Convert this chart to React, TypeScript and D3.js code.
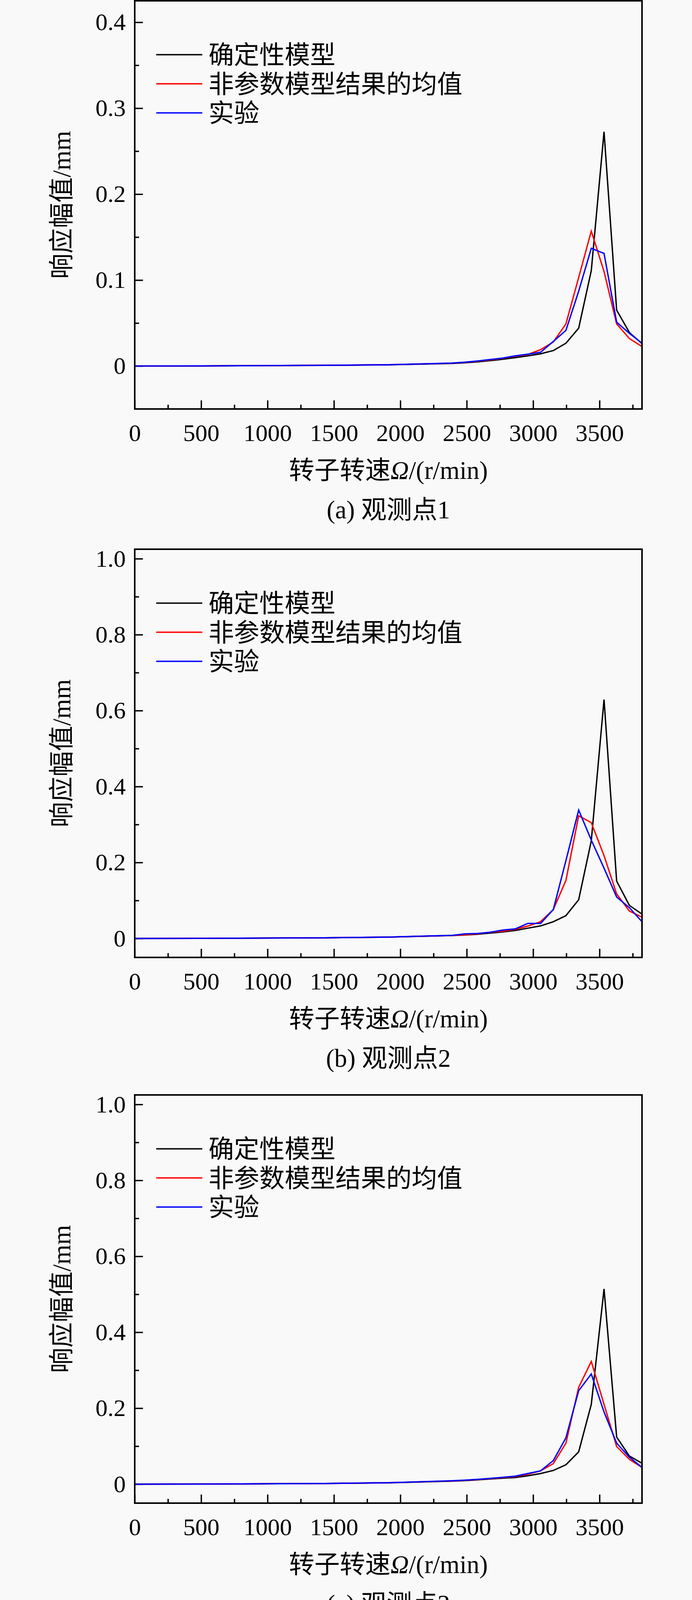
import React, { useEffect, useRef } from 'react';
import * as d3 from 'd3';

// rotor speed (r/min) of every sample
const speeds = [0, 478, 955, 1433, 1910, 2388, 2483, 2579, 2674, 2770, 2865, 2960, 3056, 3152, 3247, 3343, 3438, 3534, 3629, 3725, 3820];

// (a) observation point 1
const detA = [0, 0.0001, 0.0004, 0.0008, 0.0014, 0.003, 0.0038, 0.0048, 0.0062, 0.0078, 0.0098, 0.0118, 0.0142, 0.018, 0.0265, 0.044, 0.111, 0.2726, 0.065, 0.039, 0.026];
const npA = [0, 0.0001, 0.0004, 0.0008, 0.0015, 0.0033, 0.0042, 0.0054, 0.007, 0.009, 0.0115, 0.0135, 0.019, 0.028, 0.049, 0.103, 0.157, 0.11, 0.049, 0.032, 0.0226];
const expA = [0, 0.0001, 0.0004, 0.0008, 0.0015, 0.0034, 0.0044, 0.0058, 0.0075, 0.0092, 0.0118, 0.0138, 0.016, 0.0286, 0.0415, 0.087, 0.137, 0.131, 0.051, 0.038, 0.0265];

// (b) observation point 2
const detB = [0, 0.0002, 0.0008, 0.0018, 0.0035, 0.0075, 0.009, 0.011, 0.014, 0.017, 0.021, 0.027, 0.033, 0.044, 0.06, 0.102, 0.257, 0.629, 0.151, 0.087, 0.064];
const npB = [0, 0.0002, 0.0008, 0.0018, 0.0035, 0.0078, 0.0095, 0.012, 0.016, 0.019, 0.024, 0.0325, 0.044, 0.076, 0.153, 0.323, 0.305, 0.218, 0.117, 0.072, 0.056];
const expB = [0, 0.0002, 0.0008, 0.0018, 0.0036, 0.008, 0.012, 0.013, 0.016, 0.022, 0.025, 0.0395, 0.0395, 0.076, 0.205, 0.338, 0.259, 0.185, 0.109, 0.081, 0.044];

// (c) observation point 3
const detC = [0, 0.0002, 0.0008, 0.0017, 0.0035, 0.0078, 0.0092, 0.0112, 0.0135, 0.0155, 0.0175, 0.022, 0.028, 0.036, 0.051, 0.085, 0.21, 0.514, 0.124, 0.074, 0.055];
const npC = [0, 0.0002, 0.0008, 0.0018, 0.0037, 0.0085, 0.01, 0.012, 0.0145, 0.017, 0.02, 0.026, 0.035, 0.054, 0.108, 0.255, 0.323, 0.21, 0.099, 0.065, 0.044];
const expC = [0, 0.0002, 0.0008, 0.0018, 0.0037, 0.0088, 0.0105, 0.0125, 0.015, 0.018, 0.021, 0.028, 0.035, 0.062, 0.122, 0.246, 0.29, 0.19, 0.108, 0.071, 0.044];

// (d) observation point 4
const detD = [0, 0.0001, 0.0002, 0.0004, 0.0008, 0.0018, 0.0022, 0.0028, 0.0036, 0.0045, 0.0055, 0.0069, 0.0094, 0.0126, 0.019, 0.0323, 0.083, 0.2064, 0.048, 0.028, 0.021];
const npD = [0, 0.0001, 0.0002, 0.0004, 0.0008, 0.0019, 0.0024, 0.003, 0.0039, 0.005, 0.0064, 0.0085, 0.0126, 0.021, 0.039, 0.109, 0.125, 0.106, 0.054, 0.026, 0.019];
const expD = [0, 0.0001, 0.0002, 0.0004, 0.0008, 0.0019, 0.0024, 0.0031, 0.004, 0.0052, 0.007, 0.0095, 0.012, 0.016, 0.043, 0.127, 0.151, 0.112, 0.049, 0.02, 0.014];

const xTicks = [0, 500, 1000, 1500, 2000, 2500, 3000, 3500];
const xMinor = [250, 750, 1250, 1750, 2250, 2750, 3250, 3750];
const yTicksSmall = [0, 0.1, 0.2, 0.3, 0.4];
const yMinorSmall = [0.05, 0.15, 0.25, 0.35];
const yTicksLarge = [0, 0.2, 0.4, 0.6, 0.8, 1.0];
const yMinorLarge = [0.1, 0.3, 0.5, 0.7, 0.9];

const legendLabels = ['确定性模型', '非参数模型结果的均值', '实验'];
const captions = ['(a) 观测点1', '(b) 观测点2', '(c) 观测点3', '(d) 观测点4'];
const colors = ['#000000', '#ff0000', '#0000ff'];

const panels = [
  { series: [detA, npA, expA], yDomain: [-0.05, 0.425], ticks: yTicksSmall, minor: yMinorSmall },
  { series: [detB, npB, expB], yDomain: [-0.05, 1.025], ticks: yTicksLarge, minor: yMinorLarge },
  { series: [detC, npC, expC], yDomain: [-0.05, 1.025], ticks: yTicksLarge, minor: yMinorLarge },
  { series: [detD, npD, expD], yDomain: [-0.05, 0.42], ticks: yTicksSmall, minor: yMinorSmall },
];

const W = 1772;
const H = 5546;
const left = 345;
const right = 1644;
const plotH = 1045;
const tops = [2, 1406, 2803, 4198];
const serif = '"Times New Roman", "Liberation Serif", serif';
const mixed = '"Times New Roman", "Liberation Serif", "Noto Sans CJK SC", serif';

const App = () => {
  const ref = useRef<SVGSVGElement>(null);

  useEffect(() => {
    const svg = d3.select(ref.current);
    svg.selectAll('*').remove();
    svg.append('rect').attr('width', W).attr('height', H).attr('fill', '#f9f9f9');

    const x = d3.scaleLinear().domain([0, 3820]).range([left, right]);

    panels.forEach((p, i) => {
      const g = svg.append('g').attr('transform', `translate(0,${tops[i]})`);
      const y = d3.scaleLinear().domain(p.yDomain).range([plotH, 0]);

      const styleAxis = (a: any) => {
        a.select('.domain').remove();
        a.selectAll('line').attr('stroke', '#000').attr('stroke-width', 3.5);
        a.selectAll('text').attr('font-size', 62).attr('font-family', serif).attr('fill', '#000');
      };

      // x axis
      g.append('g')
        .attr('transform', `translate(0,${plotH})`)
        .call(d3.axisBottom(x).tickValues(xMinor).tickSize(-11).tickFormat(() => ''))
        .call(styleAxis);
      g.append('g')
        .attr('transform', `translate(0,${plotH})`)
        .call(d3.axisBottom(x).tickValues(xTicks).tickSize(-22).tickPadding(38).tickFormat(d3.format('d')))
        .call(styleAxis);

      // y axis
      g.append('g')
        .attr('transform', `translate(${left},0)`)
        .call(d3.axisLeft(y).tickValues(p.minor).tickSize(-11).tickFormat(() => ''))
        .call(styleAxis);
      g.append('g')
        .attr('transform', `translate(${left},0)`)
        .call(d3.axisLeft(y).tickValues(p.ticks).tickSize(-21).tickPadding(23)
          .tickFormat((d: any) => (d === 0 ? '0' : d3.format('.1f')(d))))
        .call(styleAxis);

      // curves
      const line = d3.line<number>()
        .x((_, k) => x(speeds[k]))
        .y((d) => y(d));
      p.series.forEach((s, k) => {
        g.append('path')
          .datum(s)
          .attr('d', line)
          .attr('fill', 'none')
          .attr('stroke', colors[k])
          .attr('stroke-width', 3.5)
          .attr('stroke-linejoin', 'miter');
      });

      // frame
      g.append('rect')
        .attr('x', left).attr('y', 0)
        .attr('width', right - left).attr('height', plotH)
        .attr('fill', 'none').attr('stroke', '#000').attr('stroke-width', 4);

      // legend
      legendLabels.forEach((lab, k) => {
        const ly = 138 + k * 74.5;
        g.append('line')
          .attr('x1', 400).attr('x2', 518).attr('y1', ly).attr('y2', ly)
          .attr('stroke', colors[k]).attr('stroke-width', 3.5);
        g.append('text')
          .attr('x', 534).attr('y', ly + 23)
          .attr('font-size', 65).attr('font-family', mixed)
          .text(lab);
      });

      // axis titles
      const xt = g.append('text')
        .attr('x', (left + right) / 2).attr('y', plotH + 179)
        .attr('text-anchor', 'middle')
        .attr('font-size', 65).attr('font-family', mixed);
      xt.append('tspan').text('转子转速');
      xt.append('tspan').attr('font-style', 'italic').text('Ω');
      xt.append('tspan').text('/(r/min)');

      g.append('text')
        .attr('transform', `translate(180,${plotH / 2}) rotate(-90)`)
        .attr('text-anchor', 'middle')
        .attr('font-size', 65).attr('font-family', mixed)
        .text('响应幅值/mm');

      g.append('text')
        .attr('x', (left + right) / 2).attr('y', plotH + 280)
        .attr('text-anchor', 'middle')
        .attr('font-size', 65).attr('font-family', mixed)
        .text(captions[i]);
    });
  }, []);

  return (
    <div style={{ position: 'absolute', left: 0, top: 0 }}>
      <svg ref={ref} width={W} height={H} style={{ display: 'block' }} />
    </div>
  );
};

export default App;
